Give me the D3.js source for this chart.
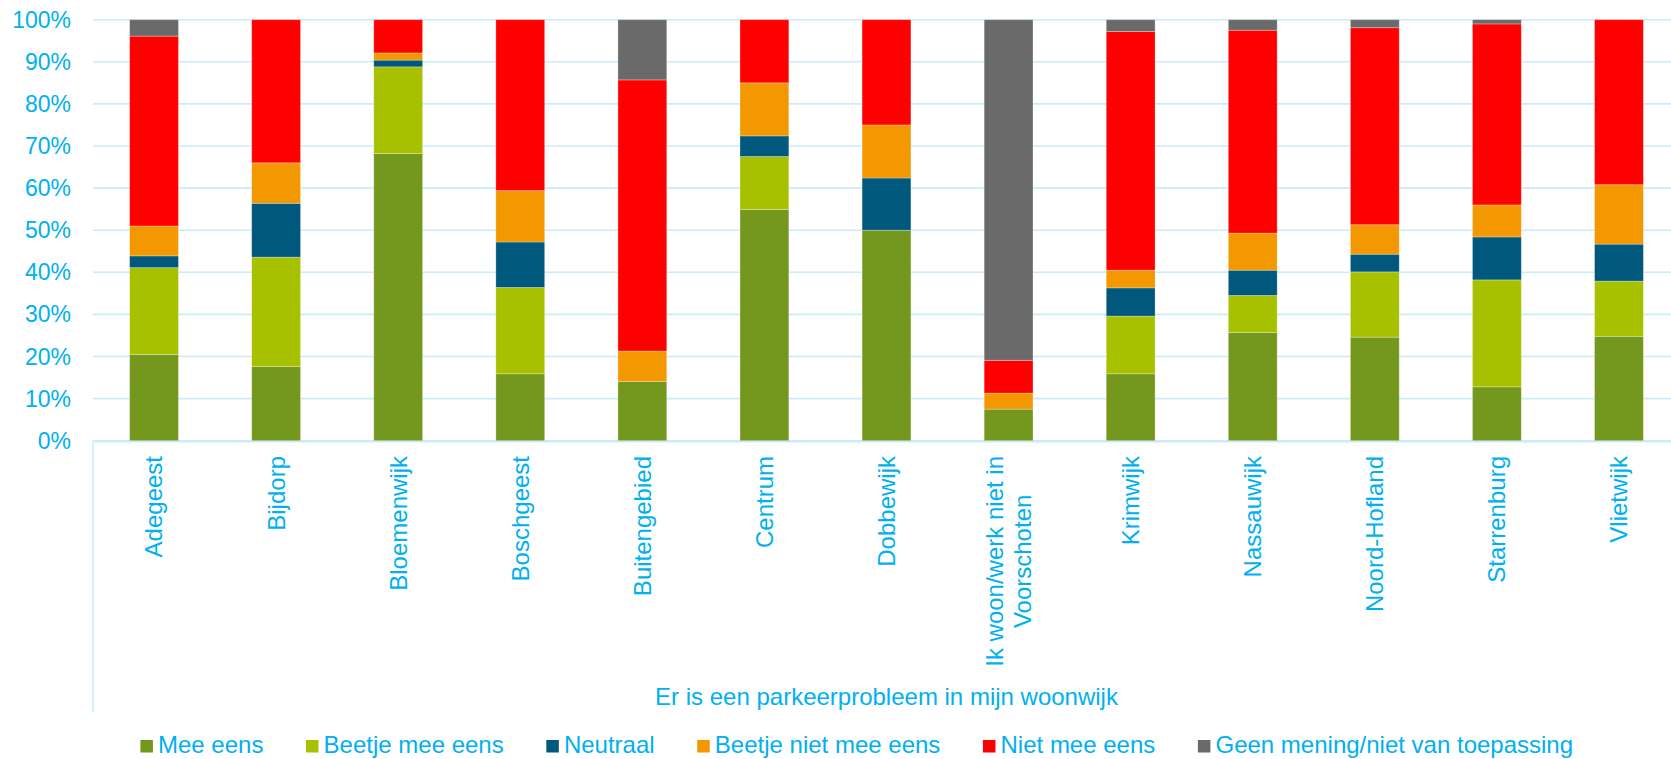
<!DOCTYPE html>
<html>
<head>
<meta charset="utf-8">
<script src="https://cdn.jsdelivr.net/npm/d3@7"></script>
<style>
  body { margin: 0; background: #fff; }
  text { font-family: 'Liberation Sans', Arial, sans-serif; fill: #00B0F0; }
</style>
</head>
<body>
<svg id="chart" width="1671" height="759"></svg>
<script>
const categories = ['Adegeest', 'Bijdorp', 'Bloemenwijk', 'Boschgeest', 'Buitengebied', 'Centrum',
  'Dobbewijk', 'Ik woon/werk niet in\nVoorschoten', 'Krimwijk', 'Nassauwijk', 'Noord-Hofland',
  'Starrenburg', 'Vlietwijk'];

const meeEens = [20.5, 17.6, 68.2, 15.9, 14.1, 54.9, 50.0, 7.5, 15.9, 25.7, 24.6, 12.8, 24.8];
const beetjeMeeEens = [20.6, 26.0, 20.6, 20.5, 0, 12.6, 0, 0, 13.7, 8.8, 15.5, 25.4, 13.1];
const neutraal = [2.8, 12.8, 1.6, 10.8, 0, 4.9, 12.4, 0, 6.7, 6.0, 4.2, 10.2, 8.8];
const beetjeNietMeeEens = [7.1, 9.6, 1.7, 12.2, 7.2, 12.6, 12.6, 3.8, 4.2, 8.8, 7.0, 7.6, 14.1];
const nietMeeEens = [45.1, 34.0, 7.9, 40.6, 64.4, 15.0, 25.0, 7.8, 56.7, 48.2, 46.8, 43.0, 39.2];
const geenMening = [3.9, 0, 0, 0, 14.3, 0, 0, 80.9, 2.8, 2.5, 1.9, 1.0, 0];

const seriesNames = ['Mee eens', 'Beetje mee eens', 'Neutraal', 'Beetje niet mee eens',
  'Niet mee eens', 'Geen mening/niet van toepassing'];
const seriesColors = ['#74981D', '#A7C100', '#00587C', '#F39800', '#FF0000', '#6A6A6A'];
const yTicks = [0, 0.1, 0.2, 0.3, 0.4, 0.5, 0.6, 0.7, 0.8, 0.9, 1];
const axisTitle = 'Er is een parkeerprobleem in mijn woonwijk';

const seriesValues = [meeEens, beetjeMeeEens, neutraal, beetjeNietMeeEens, nietMeeEens, geenMening];
const rows = categories.map((c, i) => {
  const row = { category: c };
  seriesNames.forEach((s, j) => { row[s] = seriesValues[j][i]; });
  return row;
});

const svg = d3.select('#chart');
const gridColor = '#C9ECFB';

const x = d3.scaleBand()
  .domain(categories)
  .range([93, 1680])
  .paddingInner(0.6)
  .paddingOuter(0.3);

const y = d3.scaleLinear()
  .domain([0, 1])
  .range([440.7, 19.7]);

// gridlines
svg.append('g')
  .attr('class', 'grid')
  .selectAll('line')
  .data(yTicks)
  .join('line')
    .attr('x1', 93)
    .attr('x2', 1680)
    .attr('y1', d => y(d))
    .attr('y2', d => y(d))
    .attr('stroke', gridColor)
    .attr('stroke-width', 1.6);

// y axis labels
const yAxis = svg.append('g')
  .attr('transform', 'translate(71,0)')
  .call(d3.axisLeft(y).tickValues(yTicks).tickFormat(d3.format('.0%')).tickSize(0).tickPadding(0));
yAxis.select('.domain').remove();
yAxis.selectAll('text')
  .style('font-size', '23px')
  .attr('fill', '#00B0F0')
  .attr('dy', '0.33em');

// stacked bars
const stack = d3.stack()
  .keys(seriesNames)
  .offset(d3.stackOffsetExpand);

svg.append('g')
  .attr('class', 'bars')
  .selectAll('g')
  .data(stack(rows))
  .join('g')
    .attr('fill', (d, i) => seriesColors[i])
  .selectAll('rect')
  .data(d => d)
  .join('rect')
    .attr('x', d => x(d.data.category))
    .attr('width', x.bandwidth())
    .attr('y', d => y(d[1]))
    .attr('height', d => y(d[0]) - y(d[1]))
    .attr('stroke', 'rgba(255,255,255,0.35)')
    .attr('stroke-width', 0.8);

// category axis line + left boundary
svg.append('line')
  .attr('x1', 93)
  .attr('x2', 1680)
  .attr('y1', y(0) + 1)
  .attr('y2', y(0) + 1)
  .attr('stroke', gridColor)
  .attr('stroke-width', 1.6);

svg.append('line')
  .attr('x1', 93)
  .attr('x2', 93)
  .attr('y1', y(0) + 1)
  .attr('y2', 712)
  .attr('stroke', gridColor)
  .attr('stroke-width', 1.6);

// category labels, rotated, ending just under the axis
const labelTop = 456;
const lineHeight = 28;
const catLabels = svg.append('g').attr('class', 'cat-labels');
categories.forEach(c => {
  const lines = c.split('\n');
  const cx = x(c) + x.bandwidth() / 2;
  const g = catLabels.append('g')
    .attr('transform', `translate(${cx},${labelTop}) rotate(-90)`);
  const texts = lines.map((line, k) => g.append('text')
    .attr('y', (k - (lines.length - 1) / 2) * lineHeight)
    .attr('dy', '0.35em')
    .style('font-size', '24px')
    .attr('text-anchor', 'middle')
    .text(line));
  const maxLen = d3.max(texts, t => t.node().getComputedTextLength());
  texts.forEach(t => t.attr('x', -maxLen / 2));
});

// axis title
svg.append('text')
  .attr('x', (93 + 1680) / 2)
  .attr('y', 705)
  .attr('text-anchor', 'middle')
  .style('font-size', '24px')
  .text(axisTitle);

// legend
const legend = svg.append('g').attr('class', 'legend');
let lx = 140.4;
seriesNames.forEach((name, i) => {
  legend.append('rect')
    .attr('x', lx)
    .attr('y', 740)
    .attr('width', 12.5)
    .attr('height', 12.5)
    .attr('fill', seriesColors[i]);
  const t = legend.append('text')
    .attr('x', lx + 17.6)
    .attr('y', 753)
    .style('font-size', '24px')
    .text(name);
  lx += 17.6 + t.node().getComputedTextLength() + 42.6;
});
</script>
</body>
</html>
